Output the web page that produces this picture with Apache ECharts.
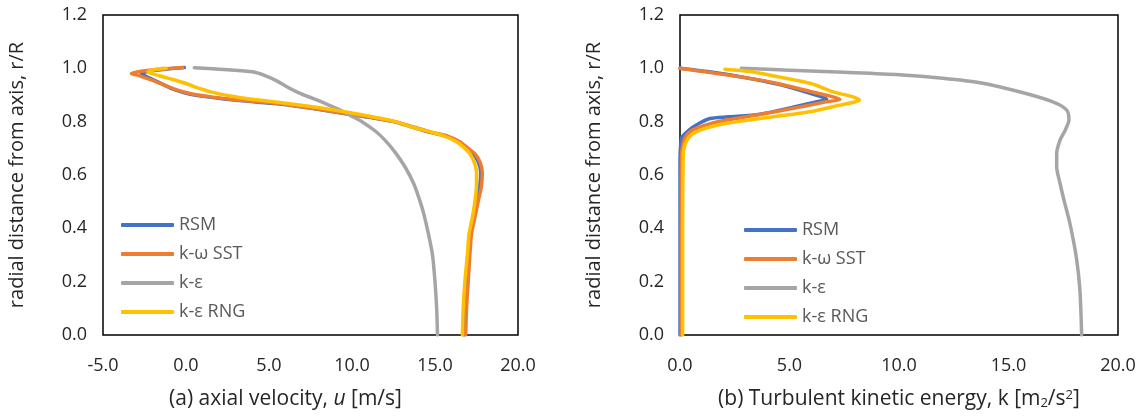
<!DOCTYPE html>
<html>
<head>
<meta charset="utf-8">
<script src="https://cdn.jsdelivr.net/npm/echarts@6/dist/echarts.min.js"></script>
<style>
  html, body { margin: 0; padding: 0; background: #fff; }
  #chart { width: 1141px; height: 416px; }
</style>
</head>
<body>
<div id="chart"></div>
<script>
// Turbulence model names and their line colours
const modelNames = ['RSM', 'k-ω SST', 'k-ε', 'k-ε RNG'];
const modelColors = ['#4472C4', '#ED7D31', '#A5A5A5', '#FFC000'];

// Axis ranges (r/R on the vertical axes)
const rTicks = { min: 0, max: 1.2, interval: 0.2 };
const uTicks = { min: -5, max: 20, interval: 5 };
const kTicks = { min: 0, max: 20, interval: 5 };

// (a) axial velocity u [m/s] vs r/R, pairs of [u, r/R]
const uRSM = [[16.75,0],[16.8,0.1],[16.9,0.2],[17.0,0.3],[17.1,0.38],[17.3,0.44],[17.5,0.5],[17.7,0.56],[17.75,0.61],[17.6,0.65],[17.3,0.68],[16.9,0.70],[16.4,0.725],[15.7,0.745],[14.7,0.76],[13.6,0.78],[12.5,0.80],[11.2,0.815],[9.9,0.827],[8.4,0.842],[6.9,0.856],[5.5,0.867],[3.2,0.879],[1.4,0.892],[0.2,0.904],[-0.7,0.92],[-1.4,0.94],[-2.0,0.958],[-2.5,0.973],[-2.7,0.982],[-2.1,0.99],[-1.0,0.998],[-0.1,1.003]];
const uSST = [[16.85,0],[16.9,0.1],[17.0,0.2],[17.1,0.3],[17.2,0.38],[17.4,0.44],[17.6,0.5],[17.8,0.56],[17.85,0.61],[17.7,0.65],[17.4,0.68],[17.0,0.70],[16.5,0.725],[15.8,0.745],[14.8,0.76],[13.7,0.78],[12.6,0.80],[11.3,0.815],[10.0,0.827],[8.5,0.842],[7.0,0.856],[5.6,0.868],[3.3,0.88],[1.5,0.893],[0.3,0.905],[-0.6,0.92],[-1.4,0.94],[-2.1,0.957],[-2.8,0.972],[-3.3,0.981],[-2.6,0.99],[-1.2,0.998],[-0.2,1.003]];
const uKE = [[15.15,0],[15.1,0.1],[15.0,0.2],[14.85,0.3],[14.6,0.38],[14.3,0.46],[14.0,0.52],[13.7,0.57],[13.2,0.63],[12.6,0.685],[12.0,0.73],[11.4,0.765],[10.6,0.8],[10.0,0.82],[9.4,0.84],[8.5,0.865],[7.6,0.888],[6.8,0.908],[6.1,0.93],[5.5,0.952],[4.8,0.972],[4.0,0.987],[2.5,0.995],[0.5,1.002]];
const uRNG = [[16.65,0],[16.7,0.1],[16.8,0.2],[16.95,0.3],[17.05,0.38],[17.25,0.44],[17.4,0.5],[17.5,0.56],[17.5,0.61],[17.35,0.65],[17.1,0.68],[16.8,0.70],[16.3,0.725],[15.6,0.745],[14.7,0.762],[13.6,0.78],[12.6,0.80],[11.5,0.815],[10.4,0.828],[8.9,0.844],[7.4,0.858],[6.0,0.869],[4.5,0.88],[3.2,0.891],[1.8,0.907],[0.8,0.925],[0.0,0.943],[-0.8,0.958],[-1.6,0.972],[-2.3,0.986],[-1.9,0.995],[-1.2,1.0]];

// (b) turbulent kinetic energy k vs r/R, pairs of [k, r/R]
const kRSM = [[0,0],[0,0.3],[0,0.6],[0,0.65],[0.02,0.7],[0.08,0.74],[0.3,0.76],[0.6,0.78],[0.9,0.795],[1.37,0.812],[2.2,0.818],[3.65,0.828],[5.2,0.855],[6.2,0.874],[6.7,0.884],[6.5,0.892],[5.8,0.91],[4.5,0.94],[3.0,0.965],[1.5,0.985],[0,1.0]];
const kSST = [[0.05,0],[0.05,0.4],[0.06,0.65],[0.1,0.7],[0.23,0.74],[0.5,0.765],[0.91,0.78],[1.5,0.795],[2.13,0.806],[3.5,0.825],[5.17,0.85],[6.5,0.872],[7.3,0.884],[6.9,0.895],[6.0,0.912],[4.4,0.944],[2.8,0.968],[1.3,0.985],[0,1.0]];
const kKE = [[18.34,0],[18.26,0.17],[18.1,0.29],[17.8,0.42],[17.55,0.5],[17.35,0.57],[17.2,0.63],[17.2,0.68],[17.35,0.73],[17.6,0.77],[17.76,0.806],[17.65,0.844],[17.0,0.875],[15.5,0.912],[13.7,0.946],[12.0,0.963],[10.0,0.976],[7.5,0.985],[5.0,0.993],[2.8,1.0]];
const kRNG = [[0.12,0],[0.12,0.4],[0.14,0.65],[0.18,0.7],[0.35,0.735],[0.6,0.756],[1.2,0.776],[2.13,0.794],[3.65,0.812],[5.94,0.837],[7.3,0.862],[8.2,0.881],[7.9,0.893],[7.0,0.912],[5.94,0.944],[4.5,0.968],[3.2,0.988],[2.05,0.997]];

const FONT = 'Open Sans';
const TXT = '#262626';
const TICK_SIZE = 18;
const TITLE_SIZE = 21;

const chart = echarts.init(document.getElementById('chart'), null, { renderer: 'canvas' });

const oneDecimal = v => v.toFixed(1);

function xAxisFor(gridIndex, range, name, rich, titlePadding) {
  return {
    type: 'value', gridIndex,
    min: range.min, max: range.max, interval: range.interval,
    axisLine: { show: false }, axisTick: { show: false }, splitLine: { show: false },
    axisLabel: { formatter: oneDecimal, margin: 22, fontFamily: FONT, fontSize: TICK_SIZE, color: TXT },
    name, nameLocation: 'middle', nameGap: 54,
    nameTextStyle: { fontFamily: FONT, fontSize: TITLE_SIZE, color: TXT, rich, padding: titlePadding }
  };
}

function yAxisFor(gridIndex) {
  return {
    type: 'value', gridIndex,
    min: rTicks.min, max: rTicks.max, interval: rTicks.interval,
    axisLine: { show: false }, axisTick: { show: false }, splitLine: { show: false },
    axisLabel: { formatter: oneDecimal, margin: 16, fontFamily: FONT, fontSize: TICK_SIZE, color: TXT },
    name: 'radial distance from axis, r/R', nameLocation: 'middle', nameGap: 76,
    nameTextStyle: { fontFamily: FONT, fontSize: 20, color: TXT }
  };
}

function lineSeries(name, idx, data, axisIndex) {
  return {
    type: 'line', name, data,
    xAxisIndex: axisIndex, yAxisIndex: axisIndex,
    symbol: 'none', smooth: 0.25,
    lineStyle: { color: modelColors[idx], width: 3.5, cap: 'round', join: 'round' },
    itemStyle: { color: modelColors[idx] },
    emphasis: { disabled: true }
  };
}

function legendAt(left, top) {
  return {
    left, top, orient: 'vertical',
    icon: 'roundRect',
    itemWidth: 53, itemHeight: 4, itemGap: 11,
    data: modelNames,
    textStyle: { fontFamily: FONT, fontSize: 18, color: '#595959', lineHeight: 18 }
  };
}

const richTitle = {
  sub: { fontFamily: FONT, fontSize: 13, color: TXT, verticalAlign: 'bottom', lineHeight: 13 },
  sup: { fontFamily: FONT, fontSize: 13, color: TXT, verticalAlign: 'top', lineHeight: 13 },
  i: { fontFamily: FONT, fontSize: TITLE_SIZE, color: TXT, fontStyle: 'italic' }
};

chart.setOption({
  animation: false,
  backgroundColor: '#fff',
  grid: [
    { left: 103, top: 15, width: 415, height: 320, show: true, borderColor: '#000', borderWidth: 1.5, backgroundColor: 'transparent' },
    { left: 680, top: 15, width: 438, height: 320, show: true, borderColor: '#000', borderWidth: 1.5, backgroundColor: 'transparent' }
  ],
  xAxis: [
    xAxisFor(0, uTicks, '(a) axial velocity, {i|u} [m/s]', richTitle, [0, 50, 0, 0]),
    xAxisFor(1, kTicks, '(b) Turbulent kinetic energy, k [m{sub|2}/s{sup|2}]', richTitle, [0, 0, 0, 0])
  ],
  yAxis: [yAxisFor(0), yAxisFor(1)],
  legend: [legendAt(116, 211), legendAt(739, 216)],
  series: [
    lineSeries(modelNames[0], 0, uRSM, 0),
    lineSeries(modelNames[1], 1, uSST, 0),
    lineSeries(modelNames[2], 2, uKE, 0),
    lineSeries(modelNames[3], 3, uRNG, 0),
    lineSeries(modelNames[0], 0, kRSM, 1),
    lineSeries(modelNames[1], 1, kSST, 1),
    lineSeries(modelNames[2], 2, kKE, 1),
    lineSeries(modelNames[3], 3, kRNG, 1)
  ]
});
</script>
</body>
</html>
